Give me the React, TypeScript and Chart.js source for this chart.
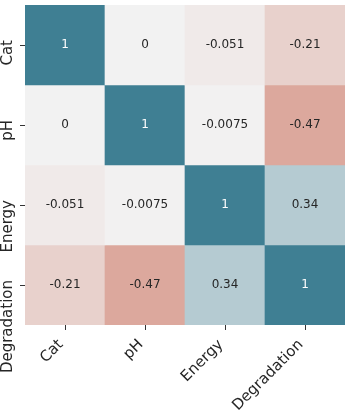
import React, { useEffect, useRef } from "react";
import { Chart, registerables } from "chart.js";

Chart.register(...registerables);

const columnLabels = ["Cat", "pH", "Energy", "Degradation"];
const rowLabels = ["Cat", "pH", "Energy", "Degradation"];
const rowCat = [1, 0, -0.051, -0.21];
const rowPH = [0, 1, -0.0075, -0.47];
const rowEnergy = [-0.051, -0.0075, 1, 0.34];
const rowDegradation = [-0.21, -0.47, 0.34, 1];
const matrixRows = [rowCat, rowPH, rowEnergy, rowDegradation];

const POS = [0.2455, 0.4978, 0.5774];
const MID = [0.95, 0.95, 0.95];
const NEG = [0.7624, 0.3302, 0.2346];

function colorFor(v: number): string {
  const t = Math.max(-1, Math.min(1, v));
  const end = t >= 0 ? POS : NEG;
  const a = Math.abs(t);
  const c = MID.map((m, i) => Math.round((m + (end[i] - m) * a) * 255));
  return `rgb(${c[0]},${c[1]},${c[2]})`;
}

function fmt(v: number): string {
  return String(parseFloat(v.toPrecision(2)));
}

const FONT = "DejaVu Sans";

const annotatePlugin = {
  id: "annotate",
  afterDatasetsDraw(chart: any) {
    const ctx = chart.ctx;
    ctx.save();
    ctx.font = `12px "${FONT}"`;
    ctx.textAlign = "center";
    ctx.textBaseline = "middle";
    chart.data.datasets.forEach((ds: any, i: number) => {
      const meta = chart.getDatasetMeta(i);
      meta.data.forEach((el: any, j: number) => {
        const v = matrixRows[i][j];
        const p = el.getCenterPoint();
        ctx.fillStyle = v > 0.6 ? "#ffffff" : "#262626";
        ctx.fillText(fmt(v), p.x, p.y);
      });
    });
    ctx.restore();
  },
};

export default function App() {
  const ref = useRef<HTMLCanvasElement>(null);
  useEffect(() => {
    if (!ref.current) return;
    const datasets = matrixRows.map((row, i) => ({
      label: rowLabels[i],
      data: row.map(() => 1),
      backgroundColor: row.map((v) => colorFor(v)),
      borderWidth: 0,
      barPercentage: 1,
      categoryPercentage: 1,
    }));
    const chart = new Chart(ref.current, {
      type: "bar",
      data: { labels: columnLabels, datasets },
      options: {
        animation: false,
        responsive: false,
        layout: { padding: { top: 5, right: 6, left: 0, bottom: 0 } },
        plugins: { legend: { display: false }, tooltip: { enabled: false } },
        scales: {
          x: {
            type: "category",
            stacked: true,
            offset: true,
            grid: { offset: false, drawOnChartArea: false, drawTicks: true, tickLength: 5, color: "#333333" },
            border: { display: false },
            ticks: {
              autoSkip: false,
              minRotation: 45,
              maxRotation: 45,
              padding: 6,
              labelOffset: -4,
              color: "#262626",
              font: { family: FONT, size: 15 },
            },
            afterFit: (axis: any) => {
              axis.height = 86;
              axis.paddingLeft = 0;
              axis.paddingRight = 0;
            },
          },
          y: {
            type: "linear",
            stacked: true,
            min: 0,
            max: 4,
            reverse: true,
            grid: { drawOnChartArea: false, drawTicks: true, tickLength: 5, color: "#333333" },
            border: { display: false },
            afterBuildTicks: (axis: any) => {
              axis.ticks = [0.5, 1.5, 2.5, 3.5].map((v) => ({ value: v }));
            },
            ticks: {
              minRotation: 90,
              maxRotation: 90,
              padding: 12,
              labelOffset: -5,
              color: "#262626",
              font: { family: FONT, size: 15 },
              callback: (v: any) => rowLabels[Math.floor(Number(v))] ?? "",
            },
            afterFit: (axis: any) => {
              axis.width = 25;
              axis.paddingTop = 0;
              axis.paddingBottom = 0;
            },
          },
        },
      },
      plugins: [annotatePlugin],
    } as any);
    return () => chart.destroy();
  }, []);
  return (
    <canvas
      ref={ref}
      width={351}
      height={411}
      style={{ position: "absolute", left: 0, top: 0, width: 351, height: 411 }}
    />
  );
}
